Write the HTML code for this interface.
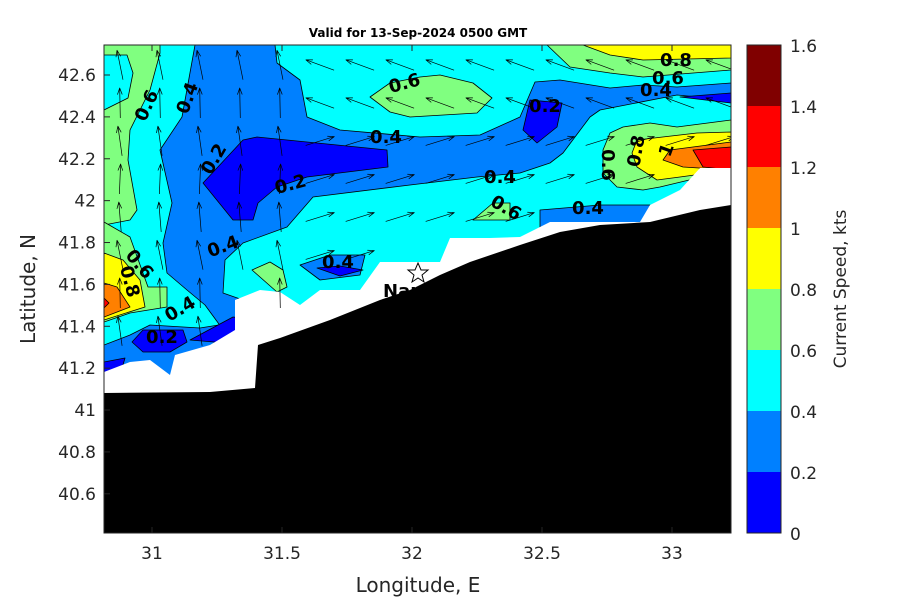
<!DOCTYPE html>
<html><head><meta charset="utf-8"><style>
body{margin:0;background:#fff;}
svg{display:block;font-family:"DejaVu Sans","Liberation Sans",sans-serif;}
</style></head><body>
<svg id="s" width="900" height="600" viewBox="0 0 900 600" xmlns="http://www.w3.org/2000/svg">
<defs><clipPath id="c"><rect x="104" y="45" width="627" height="488"/></clipPath></defs>
<g clip-path="url(#c)" stroke="#000" stroke-width="0.8" stroke-linejoin="round">
<rect x="104" y="45" width="627" height="488" fill="#00ffff" stroke="none"/>
<polygon fill="#0080ff" points="195,45 275,45 277,63 300,80 307,117 340,130 420,137 480,135 520,117 535,82 560,80 610,88 643,85 677,87 731,83 731,100 677,95 600,110 590,117 563,153 550,163 520,173 477,177 410,185 313,197 287,227 243,243 225,260 223,293 243,300 250,320 200,328 150,325 130,335 104,345 104,380 260,380 205,305 187,290 167,273 163,243 172,203 160,150 182,117"/>
<polygon fill="#0080ff" points="300,265 330,255 365,255 360,275 320,280"/>
<polygon fill="#0080ff" points="540,210 600,205 650,205 650,225 540,228"/>
<polygon fill="#0000ff" points="203,183 243,140 257,137 387,150 388,167 307,177 277,187 258,203 253,220 233,220"/>
<polygon fill="#0000ff" points="523,130 530,100 562,103 557,127 537,143"/>
<polygon fill="#0000ff" points="680,97 731,93 731,103"/>
<polygon fill="#0000ff" points="132,342 143,330 183,330 187,342 170,352 143,352"/>
<polygon fill="#0000ff" points="190,340 233,317 260,320 250,345"/>
<polygon fill="#0000ff" points="317,268 340,266 363,270 340,276"/>
<polygon fill="#0000ff" points="104,362 125,358 120,375 104,378"/>
<polygon fill="#80ff80" points="104,45 160,45 160,53 150,90 130,130 128,160 137,210 130,220 104,225"/>
<polygon fill="#00ffff" points="104,55 127,55 133,73 128,98 104,110"/>
<polygon fill="#80ff80" points="104,222 130,237 148,287 167,287 167,307 130,313 104,322"/>
<polygon fill="#ffff00" points="104,253 123,260 140,280 145,307 104,320"/>
<polygon fill="#ff8000" points="104,283 117,287 130,307 104,317"/>
<polygon fill="#ff0000" points="104,298 109,303 104,308"/>
<polygon fill="#80ff80" points="370,97 390,83 420,77 440,75 473,83 492,98 477,113 410,117 390,112"/>
<polygon fill="#80ff80" points="252,270 270,262 283,270 287,287 277,292"/>
<polygon fill="#80ff80" points="473,220 493,203 510,203 510,220"/>
<polygon fill="#80ff80" points="547,45 570,67 610,73 643,77 731,70 731,45"/>
<polygon fill="#ffff00" points="583,45 610,55 643,60 731,58 731,45"/>
<polygon fill="#80ff80" points="603,150 610,133 623,127 650,123 677,127 731,120 731,170 660,187 643,190 617,187 603,173"/>
<polygon fill="#ffff00" points="632,153 637,140 697,133 731,132 731,170 680,177 657,180 637,167"/>
<polygon fill="#ff8000" points="663,160 670,150 731,142 731,170 683,167"/>
<polygon fill="#ff0000" points="693,150 731,147 731,170 703,167"/>
<polygon fill="#fff" stroke="none" points="104,372 130,362 150,360 170,375 175,355 210,345 235,330 235,300 260,290 280,292 300,305 320,290 360,290 380,262 440,262 450,238 490,238 520,237 550,222 640,222 650,205 680,190 700,168 731,168 731,540 104,540"/>
<polygon fill="#000" stroke="none" points="104,393 210,392 255,388 258,345 280,338 330,320 380,300 410,290 440,275 470,262 520,245 560,232 600,225 650,222 700,210 731,205 731,540 104,540"/>
<g id="arr" stroke-width="0.7" fill="none"></g>
</g>
<g font-weight="bold" font-size="18" text-anchor="middle" fill="#000">
<text transform="translate(152,108) rotate(-65)">0.6</text>
<text transform="translate(193,100) rotate(-70)">0.4</text>
<text transform="translate(219,162) rotate(-60)">0.2</text>
<text transform="translate(292,190) rotate(-15)">0.2</text>
<text x="386" y="143">0.4</text>
<text transform="translate(406,89) rotate(-15)">0.6</text>
<text x="545" y="112">0.2</text>
<text x="676" y="66">0.8</text>
<text x="668" y="84">0.6</text>
<text x="656" y="96">0.4</text>
<text transform="translate(602,165) rotate(90)">0.6</text>
<text transform="translate(642,152) rotate(-80)">0.8</text>
<text transform="translate(672,152) rotate(-70)">1</text>
<text x="500" y="183">0.4</text>
<text transform="translate(503,213) rotate(30)">0.6</text>
<text x="588" y="214">0.4</text>
<text x="338" y="268">0.4</text>
<text transform="translate(225,252) rotate(-20)">0.4</text>
<text transform="translate(135,268) rotate(50)">0.6</text>
<text transform="translate(124,283) rotate(75)">0.8</text>
<text transform="translate(183,314) rotate(-30)">0.4</text>
<text x="162" y="343">0.2</text>
<text x="383" y="297" text-anchor="start">Nantu</text>
</g>
<polygon points="418,263 421,270 428,270 422,275 424,282 418,278 412,282 414,275 408,270 415,270" fill="#fff" stroke="#000" stroke-width="1"/>
<rect x="104" y="45" width="627" height="488" fill="none" stroke="#262626" stroke-width="1"/>
<g stroke="#262626" stroke-width="1">
<line x1="152" y1="533" x2="152" y2="527"/><line x1="282" y1="533" x2="282" y2="527"/><line x1="412" y1="533" x2="412" y2="527"/><line x1="542" y1="533" x2="542" y2="527"/><line x1="672" y1="533" x2="672" y2="527"/>
<line x1="152" y1="45" x2="152" y2="51"/><line x1="282" y1="45" x2="282" y2="51"/><line x1="412" y1="45" x2="412" y2="51"/><line x1="542" y1="45" x2="542" y2="51"/><line x1="672" y1="45" x2="672" y2="51"/>
</g>
<g font-size="17" fill="#262626" text-anchor="middle">
<text x="152" y="559">31</text><text x="282" y="559">31.5</text><text x="412" y="559">32</text><text x="542" y="559">32.5</text><text x="672" y="559">33</text>
</g>
<g font-size="17" fill="#262626" text-anchor="end" id="yl"></g>
<text x="418" y="592" font-size="20" fill="#262626" text-anchor="middle">Longitude, E</text>
<text transform="translate(35,289) rotate(-90)" font-size="20" fill="#262626" text-anchor="middle">Latitude, N</text>
<text x="418" y="37" font-size="12" font-weight="bold" text-anchor="middle">Valid for 13-Sep-2024 0500 GMT</text>
<g stroke="none">
<rect x="747" y="45" width="34" height="61" fill="#800000"/>
<rect x="747" y="106" width="34" height="61" fill="#ff0000"/>
<rect x="747" y="167" width="34" height="61" fill="#ff8000"/>
<rect x="747" y="228" width="34" height="61" fill="#ffff00"/>
<rect x="747" y="289" width="34" height="61" fill="#80ff80"/>
<rect x="747" y="350" width="34" height="61" fill="#00ffff"/>
<rect x="747" y="411" width="34" height="61" fill="#0080ff"/>
<rect x="747" y="472" width="34" height="61" fill="#0000ff"/>
</g>
<rect x="747" y="45" width="34" height="488" fill="none" stroke="#262626" stroke-width="1"/>
<g font-size="17" fill="#262626">
<text x="790" y="52">1.6</text><text x="790" y="113">1.4</text><text x="790" y="174">1.2</text><text x="790" y="235">1</text><text x="790" y="296">0.8</text><text x="790" y="357">0.6</text><text x="790" y="418">0.4</text><text x="790" y="479">0.2</text><text x="790" y="540">0</text>
</g>
<text transform="translate(846,289) rotate(-90)" font-size="17" fill="#262626" text-anchor="middle">Current Speed, kts</text>
</svg>
<script>
var ns="http://www.w3.org/2000/svg";
var yl=document.getElementById("yl");
var labs=["42.6","42.4","42.2","42","41.8","41.6","41.4","41.2","41","40.8","40.6"];
for(var i=0;i<labs.length;i++){var y=75+i*41.88;var t=document.createElementNS(ns,"text");t.setAttribute("x","96");t.setAttribute("y",(y+6).toFixed(1));t.textContent=labs[i];yl.appendChild(t);
var l=document.createElementNS(ns,"line");l.setAttribute("x1","104");l.setAttribute("x2","110");l.setAttribute("y1",y);l.setAttribute("y2",y);l.setAttribute("stroke","#262626");document.getElementById("s").appendChild(l);}
var wb=[[104,372],[175,355],[235,330],[235,300],[300,305],[380,262],[450,238],[550,222],[640,222],[700,168],[731,168]];
function lim(x){for(var i=0;i<wb.length-1;i++){if(x>=wb[i][0]&&x<=wb[i+1][0]){var f=(x-wb[i][0])/(wb[i+1][0]-wb[i][0]);return wb[i][1]+f*(wb[i+1][1]-wb[i][1]);}}return 168;}
var g=document.getElementById("arr");
for(var x=120;x<731;x+=40){for(var y=65;y<380;y+=38){if(y>lim(x)-8)continue;
var a,L=30;
if(x<300){a=-Math.PI/2-0.2+((x*7+y)%5)*0.06;}
else if(y<125){a=Math.PI+0.35;}
else {a=-0.3;}
var dx=Math.cos(a)*L,dy=Math.sin(a)*L;var x0=x-dx/2,y0=y-dy/2,x1=x+dx/2,y1=y+dy/2;
var p=document.createElementNS(ns,"path");
var h=7,b1=a+Math.PI-0.35,b2=a+Math.PI+0.35;
p.setAttribute("d","M"+x0+","+y0+"L"+x1+","+y1+"M"+(x1+h*Math.cos(b1))+","+(y1+h*Math.sin(b1))+"L"+x1+","+y1+"L"+(x1+h*Math.cos(b2))+","+(y1+h*Math.sin(b2)));
g.appendChild(p);}}
</script>
</body></html>
